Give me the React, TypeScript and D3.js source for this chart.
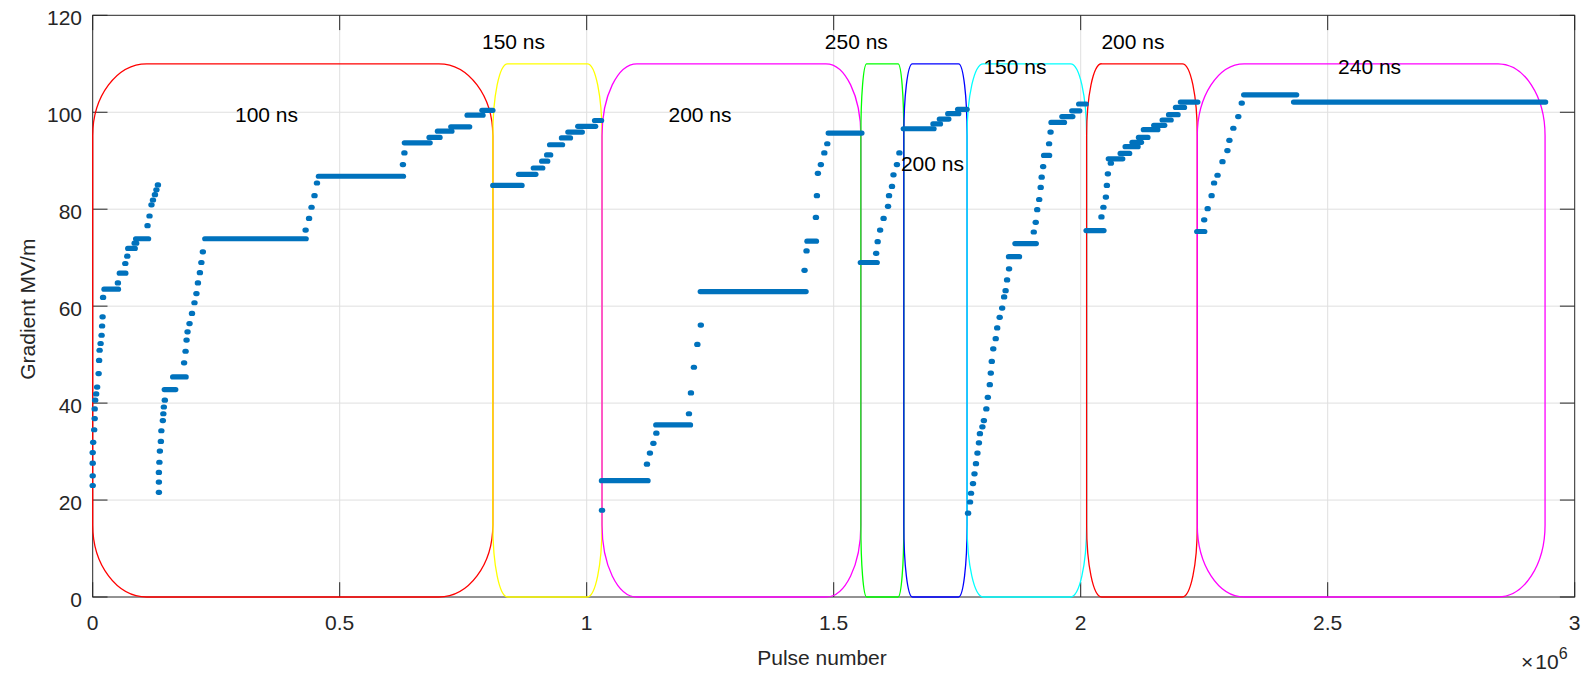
import React from 'react';
import * as d3 from 'd3';

const WIDTH = 1591;
const HEIGHT = 676;
const PLOT = { left: 92.7, right: 1574.7, top: 15.3, bottom: 597 };

const xTicks = [0, 0.5, 1, 1.5, 2, 2.5, 3];
const xTickLabels = ['0', '0.5', '1', '1.5', '2', '2.5', '3'];
const yTicks = [0, 20, 40, 60, 80, 100, 120];

// Pulse-length windows: boundaries in units of 10^6 pulses
const windowEdges = [0, 0.81, 1.031, 1.555, 1.642, 1.77, 2.012, 2.236, 2.94];
const windowTop = 110;
const windowColors = ['#ff0000', '#ffff00', '#ff00ff', '#00ff00', '#0000ff', '#00ffff', '#ff0000', '#ff00ff'];

const pulseLengths = ['100 ns', '150 ns', '200 ns', '250 ns', '200 ns', '150 ns', '200 ns', '240 ns'];
const labelX = [0.288, 0.788, 1.1655, 1.482, 1.636, 1.803, 2.042, 2.521];
const labelY = [99.5, 114.6, 99.5, 114.6, 89.5, 109.4, 114.6, 109.4];

// Gradient steps: [first pulse, last pulse (10^6), gradient MV/m]
const gradientSteps: [number, number, number][] = [
  // 100 ns
  [0, 0, 23.0], [0, 0, 25.0], [0, 0, 27.6], [0, 0, 29.8], [0.001, 0.001, 31.9],
  [0.003, 0.003, 34.5], [0.004, 0.004, 36.8], [0.004, 0.004, 38.8], [0.005, 0.005, 40.6],
  [0.007, 0.007, 41.9], [0.009, 0.009, 43.3], [0.012, 0.012, 46.1], [0.013, 0.013, 48.8],
  [0.014, 0.014, 50.9], [0.016, 0.016, 52.3], [0.018, 0.018, 54.0], [0.019, 0.019, 55.9],
  [0.02, 0.02, 57.8], [0.021, 0.021, 61.8], [0.024, 0.051, 63.5], [0.051, 0.051, 64.8],
  [0.055, 0.066, 66.8], [0.066, 0.066, 68.8], [0.07, 0.07, 70.3], [0.072, 0.085, 71.9],
  [0.085, 0.088, 73.0], [0.088, 0.112, 73.9], [0.111, 0.111, 76.6], [0.115, 0.115, 78.6],
  [0.119, 0.119, 80.9], [0.122, 0.122, 81.9], [0.126, 0.126, 83.0], [0.129, 0.129, 84.0],
  [0.132, 0.132, 85.0],
  [0.134, 0.134, 21.6], [0.134, 0.134, 23.7], [0.134, 0.134, 25.7], [0.135, 0.135, 27.8],
  [0.136, 0.136, 30.1], [0.138, 0.138, 32.1], [0.139, 0.139, 34.3], [0.142, 0.142, 36.4],
  [0.143, 0.143, 37.8], [0.144, 0.144, 39.2], [0.146, 0.146, 40.6], [0.146, 0.167, 42.8],
  [0.163, 0.188, 45.4], [0.185, 0.185, 48.3], [0.188, 0.188, 50.7], [0.19, 0.19, 53.0],
  [0.192, 0.192, 54.7], [0.196, 0.196, 56.4], [0.201, 0.201, 58.5], [0.206, 0.206, 60.7],
  [0.21, 0.21, 62.6], [0.213, 0.213, 64.8], [0.217, 0.217, 66.9], [0.22, 0.22, 69.0],
  [0.223, 0.223, 71.2], [0.228, 0.431, 73.9],
  [0.431, 0.431, 75.7], [0.438, 0.438, 78.1], [0.443, 0.443, 80.4], [0.449, 0.449, 82.8],
  [0.454, 0.454, 85.4], [0.458, 0.628, 86.8], [0.628, 0.628, 89.2], [0.631, 0.631, 91.6],
  [0.632, 0.682, 93.7], [0.682, 0.702, 94.8], [0.699, 0.726, 96.1], [0.726, 0.762, 97.0],
  [0.759, 0.789, 99.4], [0.789, 0.809, 100.4],
  // 150 ns
  [0.811, 0.868, 84.9], [0.863, 0.896, 87.2], [0.893, 0.91, 88.5], [0.91, 0.92, 89.9],
  [0.92, 0.926, 91.2], [0.926, 0.95, 93.3], [0.95, 0.966, 94.7], [0.963, 0.99, 95.9],
  [0.983, 1.017, 97.1], [1.017, 1.029, 98.3],
  // 200 ns
  [1.031, 1.031, 17.9], [1.031, 1.123, 24.0], [1.122, 1.122, 27.4], [1.128, 1.128, 29.7],
  [1.135, 1.135, 31.7], [1.141, 1.141, 33.8], [1.141, 1.209, 35.5], [1.207, 1.207, 37.8],
  [1.211, 1.211, 42.1], [1.217, 1.217, 47.4], [1.224, 1.224, 52.1], [1.231, 1.231, 56.1],
  [1.231, 1.443, 63.0], [1.441, 1.441, 67.4], [1.445, 1.445, 71.4], [1.447, 1.464, 73.4],
  [1.464, 1.464, 78.3], [1.466, 1.466, 82.8], [1.468, 1.468, 87.4], [1.474, 1.474, 89.2],
  [1.481, 1.481, 91.6], [1.487, 1.487, 93.5], [1.49, 1.556, 95.7],
  // 250 ns
  [1.555, 1.587, 69.0], [1.586, 1.586, 70.9], [1.589, 1.589, 73.3], [1.594, 1.594, 75.7],
  [1.601, 1.601, 78.1], [1.61, 1.61, 80.6], [1.612, 1.612, 82.8], [1.618, 1.618, 84.7],
  [1.621, 1.621, 87.1], [1.628, 1.628, 89.2], [1.633, 1.633, 91.6],
  // 200 ns
  [1.642, 1.702, 96.6], [1.702, 1.715, 97.6], [1.715, 1.732, 98.6], [1.732, 1.752, 99.7],
  [1.752, 1.769, 100.6],
  // 150 ns
  [1.772, 1.772, 17.3], [1.776, 1.776, 19.6], [1.778, 1.778, 21.4], [1.782, 1.782, 23.4],
  [1.785, 1.785, 25.4], [1.788, 1.788, 27.5], [1.791, 1.791, 29.7], [1.794, 1.794, 31.8],
  [1.796, 1.796, 33.7], [1.801, 1.801, 35.1], [1.804, 1.804, 36.4], [1.809, 1.809, 38.8],
  [1.812, 1.812, 41.2], [1.816, 1.816, 43.8], [1.818, 1.818, 46.2], [1.82, 1.82, 48.6],
  [1.823, 1.823, 51.2], [1.828, 1.828, 53.3], [1.831, 1.831, 55.5], [1.836, 1.836, 57.7],
  [1.841, 1.841, 59.6], [1.845, 1.845, 61.9], [1.848, 1.848, 63.2], [1.851, 1.851, 65.4],
  [1.855, 1.855, 67.7], [1.855, 1.875, 70.2], [1.868, 1.909, 72.9], [1.905, 1.905, 75.3],
  [1.909, 1.909, 77.3], [1.912, 1.912, 79.9], [1.916, 1.916, 82.0], [1.919, 1.919, 84.5],
  [1.921, 1.921, 86.6], [1.924, 1.924, 88.8], [1.926, 1.936, 91.1], [1.936, 1.936, 93.5],
  [1.939, 1.939, 95.9], [1.941, 1.966, 97.9], [1.963, 1.983, 99.1], [1.983, 1.997, 100.3],
  [1.997, 2.01, 101.7],
  // 200 ns
  [2.012, 2.046, 75.6], [2.042, 2.042, 78.4], [2.046, 2.046, 80.4], [2.051, 2.051, 82.5],
  [2.053, 2.053, 84.9], [2.055, 2.055, 87.3], [2.061, 2.061, 89.5], [2.057, 2.084, 90.4],
  [2.081, 2.098, 91.5], [2.091, 2.115, 92.9], [2.105, 2.122, 93.8], [2.118, 2.135, 94.8],
  [2.128, 2.155, 96.4], [2.149, 2.169, 97.3], [2.166, 2.182, 98.4], [2.179, 2.196, 99.5],
  [2.193, 2.209, 101.0], [2.203, 2.236, 102.1],
  // 240 ns
  [2.236, 2.25, 75.4], [2.25, 2.25, 77.8], [2.257, 2.257, 80.1], [2.265, 2.265, 82.8],
  [2.27, 2.27, 85.4], [2.277, 2.277, 87.0], [2.287, 2.287, 89.8], [2.297, 2.297, 92.1],
  [2.301, 2.301, 94.2], [2.309, 2.309, 96.7], [2.319, 2.319, 99.1], [2.326, 2.326, 101.9],
  [2.331, 2.436, 103.6], [2.432, 2.94, 102.1],
];

const FONT = '"Liberation Sans", Arial, Helvetica, sans-serif';
const AXIS_COLOR = '#262626';
const GRID_COLOR = '#dfdfdf';
const DOT_COLOR = '#0072bd';
const TICK_LEN = 14.8;

const x = d3.scaleLinear().domain([0, 3]).range([PLOT.left, PLOT.right]);
const y = d3.scaleLinear().domain([0, 120]).range([PLOT.bottom, PLOT.top]);

// Rectangle with elliptical corners, curvature as a fraction of each side
function roundedWindow(x0: number, x1: number, top: number): string {
  const L = x(x0), R = x(x1), T = y(top), B = y(0);
  const rx = 0.135 * (R - L);
  const ry = 0.135 * (B - T);
  return [
    `M${L + rx},${T}`,
    `H${R - rx}`,
    `A${rx},${ry} 0 0 1 ${R},${T + ry}`,
    `V${B - ry}`,
    `A${rx},${ry} 0 0 1 ${R - rx},${B}`,
    `H${L + rx}`,
    `A${rx},${ry} 0 0 1 ${L},${B - ry}`,
    `V${T + ry}`,
    `A${rx},${ry} 0 0 1 ${L + rx},${T}`,
    'Z',
  ].join(' ');
}

export default function App() {
  const windows = windowColors.map((c, i) => ({
    d: roundedWindow(windowEdges[i], windowEdges[i + 1], windowTop),
    color: c,
  }));

  return (
    <svg
      width={WIDTH}
      height={HEIGHT}
      style={{ position: 'absolute', left: 0, top: 0, background: '#fff' }}
      fontFamily={FONT}
    >
      <rect x={0} y={0} width={WIDTH} height={HEIGHT} fill="#fff" />
      {/* grid */}
      <g stroke={GRID_COLOR} strokeWidth={1}>
        {xTicks.slice(1, -1).map((t) => (
          <line key={'gx' + t} x1={x(t)} x2={x(t)} y1={PLOT.top} y2={PLOT.bottom} />
        ))}
        {yTicks.slice(1, -1).map((t) => (
          <line key={'gy' + t} x1={PLOT.left} x2={PLOT.right} y1={y(t)} y2={y(t)} />
        ))}
      </g>
      {/* axes box and ticks */}
      <g stroke={AXIS_COLOR} strokeWidth={1} fill="none">
        <rect x={PLOT.left} y={PLOT.top} width={PLOT.right - PLOT.left} height={PLOT.bottom - PLOT.top} />
        {xTicks.map((t) => (
          <g key={'tx' + t}>
            <line x1={x(t)} x2={x(t)} y1={PLOT.bottom} y2={PLOT.bottom - TICK_LEN} />
            <line x1={x(t)} x2={x(t)} y1={PLOT.top} y2={PLOT.top + TICK_LEN} />
          </g>
        ))}
        {yTicks.map((t) => (
          <g key={'ty' + t}>
            <line x1={PLOT.left} x2={PLOT.left + TICK_LEN} y1={y(t)} y2={y(t)} />
            <line x1={PLOT.right} x2={PLOT.right - TICK_LEN} y1={y(t)} y2={y(t)} />
          </g>
        ))}
      </g>
      {/* tick labels */}
      <g fill={AXIS_COLOR} fontSize={21}>
        {xTicks.map((t, i) => (
          <text key={'lx' + t} x={x(t)} y={630} textAnchor="middle">
            {xTickLabels[i]}
          </text>
        ))}
        {yTicks.map((t) => (
          <text key={'ly' + t} x={82} y={y(t) + 10} textAnchor="end">
            {t}
          </text>
        ))}
      </g>
      {/* axis labels */}
      <text x={822} y={665} textAnchor="middle" fontSize={21} fill={AXIS_COLOR}>
        Pulse number
      </text>
      <text
        transform={`translate(35, ${(PLOT.top + PLOT.bottom) / 2 + 3}) rotate(-90)`}
        textAnchor="middle"
        fontSize={21}
        fill={AXIS_COLOR}
      >
        Gradient MV/m
      </text>
      <text x={1521} y={669} fontSize={21} fill={AXIS_COLOR}>
        <tspan>×</tspan>
        <tspan dx={2}>10</tspan>
        <tspan fontSize={16} dy={-10}>6</tspan>
      </text>
      {/* pulse-length windows */}
      <g fill="none" strokeWidth={1.3}>
        {windows.map((w, i) => (
          <path key={'w' + i} d={w.d} stroke={w.color} />
        ))}
      </g>
      {/* gradient measurements */}
      <g stroke={DOT_COLOR} strokeWidth={5.2} strokeLinecap="round">
        {gradientSteps.map(([a, b, g], i) => (
          <line key={'s' + i} x1={x(a) - 0.6} x2={x(b) + 0.6} y1={y(g)} y2={y(g)} />
        ))}
      </g>
      {/* pulse-length annotations */}
      <g fill="#000" fontSize={21}>
        {pulseLengths.map((s, i) => (
          <text key={'pl' + i} x={x(labelX[i])} y={y(labelY[i]) + 7.5}>
            {s}
          </text>
        ))}
      </g>
    </svg>
  );
}
